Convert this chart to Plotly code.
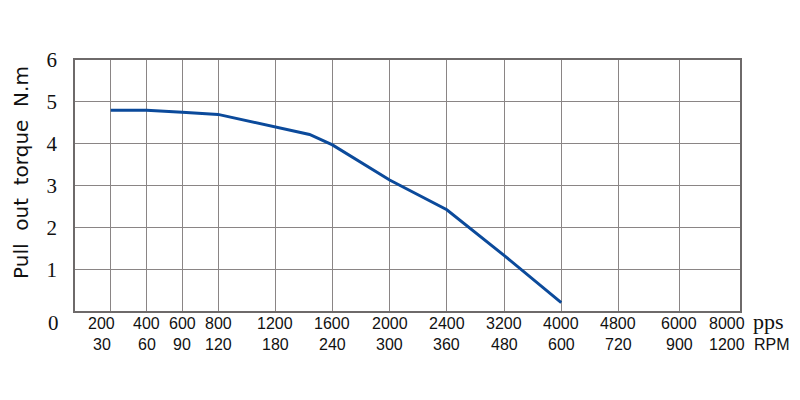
import numpy as np
import plotly.graph_objects as go

# tick labels
pps_ticks = [200, 400, 600, 800, 1200, 1600, 2000, 2400, 3200, 4000, 4800, 6000, 8000]
rpm_ticks = [30, 60, 90, 120, 180, 240, 300, 360, 480, 600, 720, 900, 1200]

# series
pps_data = [200, 400, 600, 800, 1440, 1600, 2000, 2400, 3200, 4000]
torque = [4.8, 4.8, 4.75, 4.7, 4.22, 3.97, 3.13, 2.42, 1.33, 0.2]

# axis layout: non-uniform spacing of the pps scale
tick_pos = [1, 2, 3, 4, 5.6, 7.2, 8.8, 10.4, 12, 13.6, 15.2, 16.9, 18.6]

x_data = np.interp(pps_data, pps_ticks, tick_pos)

fig = go.Figure()
fig.add_trace(go.Scatter(x=x_data, y=torque, mode="lines",
                         line=dict(color="#0b4a9b", width=3), hoverinfo="skip"))

grid = "#8a8585"
fig.update_layout(
    width=792, height=392,
    margin=dict(l=67, r=60, t=52, b=89),
    paper_bgcolor="white", plot_bgcolor="white",
    showlegend=False,
    xaxis=dict(range=[0, 18.6], tickvals=tick_pos, showticklabels=False,
               showgrid=True, gridcolor=grid, gridwidth=1, zeroline=False, automargin=False,
               showline=True, linecolor="#6e6a6a", linewidth=1.5, mirror=True, ticks=""),
    yaxis=dict(range=[0, 6], tickvals=[1, 2, 3, 4, 5, 6], automargin=False,
               tickfont=dict(family="Liberation Serif", size=21, color="#111"),
               showgrid=True, gridcolor=grid, gridwidth=1, zeroline=False,
               showline=True, linecolor="#6e6a6a", linewidth=1.5, mirror=True,
               ticks="", ticklabelstandoff=12),
)

anns = []
for i, (p, r) in enumerate(zip(pps_ticks, rpm_ticks)):
    xs = 0
    if i == 0:
        xs = -9
    if i == len(pps_ticks) - 1:
        xs = -13
    anns.append(dict(x=tick_pos[i], y=0, xref="x", yref="y", text=str(p), showarrow=False,
                     xanchor="center", yanchor="middle", yshift=-12, xshift=xs,
                     font=dict(family="Liberation Sans", size=16, color="#111")))
    anns.append(dict(x=tick_pos[i], y=0, xref="x", yref="y", text=str(r), showarrow=False,
                     xanchor="center", yanchor="middle", yshift=-33, xshift=xs,
                     font=dict(family="Liberation Sans", size=16, color="#111")))
anns.append(dict(x=18.6, y=0, xref="x", yref="y", text="pps", showarrow=False,
                 xanchor="left", yanchor="middle", yshift=-10, xshift=11,
                 font=dict(family="Liberation Serif", size=22, color="#111")))
anns.append(dict(x=18.6, y=0, xref="x", yref="y", text="RPM", showarrow=False,
                 xanchor="left", yanchor="middle", yshift=-33, xshift=12,
                 font=dict(family="Liberation Sans", size=16, color="#111")))
anns.append(dict(x=0, y=0, xref="x", yref="y", text="0", showarrow=False,
                 xanchor="center", yanchor="middle", yshift=-12, xshift=-22,
                 font=dict(family="Liberation Serif", size=21, color="#111")))
anns.append(dict(x=0, y=0.55, xref="x", yref="paper", text="Pull  out  torque  N.m", showarrow=False,
                 textangle=-90, xanchor="center", yanchor="middle", xshift=-54,
                 font=dict(family="DejaVu Sans", size=20, color="#111")))
fig.update_layout(annotations=anns)

fig.write_html("out.html")
